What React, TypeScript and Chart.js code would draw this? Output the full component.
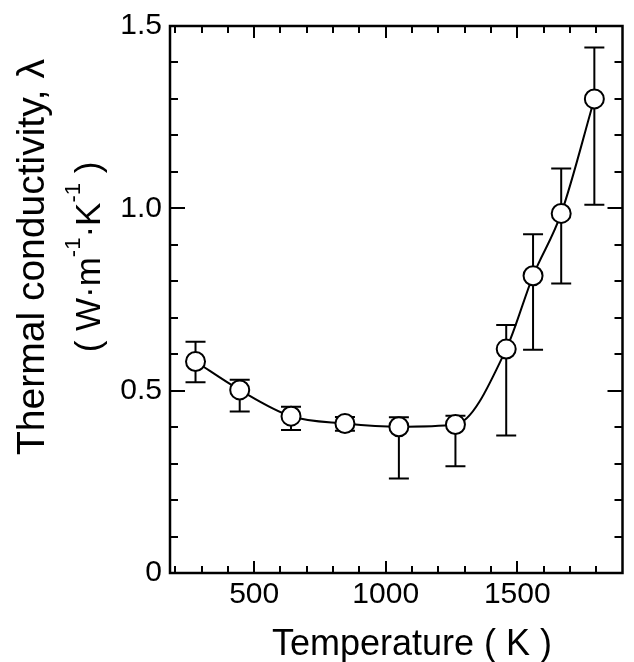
import React, { useEffect, useRef } from "react";
import { Chart, registerables } from "chart.js";

Chart.register(...registerables);

const temperatures = [277, 445, 640, 845, 1050, 1265, 1458, 1560, 1667, 1793];
const conductivity = [0.58, 0.502, 0.43, 0.41, 0.401, 0.407, 0.614, 0.815, 0.986, 1.3];
const errUpper = [0.634, 0.53, 0.456, 0.428, 0.427, 0.431, 0.68, 0.929, 1.109, 1.441];
const errLower = [0.523, 0.443, 0.392, 0.39, 0.259, 0.293, 0.377, 0.612, 0.794, 1.01];

const xTickValues = [500, 1000, 1500];
const yTickValues = [0, 0.5, 1.0, 1.5];
const yTickLabels = ["0", "0.5", "1.0", "1.5"];
const xMinorStep = 100;
const yMinorStep = 0.1;

const FONT = "'Liberation Sans', Arial, sans-serif";

const errorBarPlugin = {
  id: "errorBars",
  beforeDatasetsDraw(chart: any) {
    const { ctx, scales } = chart;
    const xs = scales.x;
    const ys = scales.y;
    ctx.save();
    ctx.strokeStyle = "#000";
    ctx.lineWidth = 2;
    for (let i = 0; i < temperatures.length; i++) {
      const px = xs.getPixelForValue(temperatures[i]);
      const pTop = ys.getPixelForValue(errUpper[i]);
      const pBot = ys.getPixelForValue(errLower[i]);
      ctx.beginPath();
      ctx.moveTo(px, pTop);
      ctx.lineTo(px, pBot);
      ctx.moveTo(px - 10, pTop);
      ctx.lineTo(px + 10, pTop);
      ctx.moveTo(px - 10, pBot);
      ctx.lineTo(px + 10, pBot);
      ctx.stroke();
    }
    ctx.restore();
  },
};

const framePlugin = {
  id: "frame",
  afterDraw(chart: any) {
    const { ctx, chartArea, scales } = chart;
    const { left, right, top, bottom } = chartArea;
    const xs = scales.x;
    const ys = scales.y;
    ctx.save();
    ctx.strokeStyle = "#000";
    ctx.lineWidth = 2.5;
    ctx.strokeRect(left, top, right - left, bottom - top);
    ctx.lineWidth = 2;
    ctx.beginPath();
    // x ticks (bottom and top)
    for (let v = 200; v < xs.max; v += xMinorStep) {
      const px = Math.round(xs.getPixelForValue(v));
      const major = xTickValues.includes(v);
      const len = major ? 12 : 7;
      ctx.moveTo(px, bottom);
      ctx.lineTo(px, bottom - len);
      ctx.moveTo(px, top);
      ctx.lineTo(px, top + len);
    }
    // y ticks (left and right)
    for (let k = 1; k < 15; k++) {
      const v = k * yMinorStep;
      const py = Math.round(ys.getPixelForValue(v));
      const major = k % 5 === 0;
      const len = major ? 15 : 8;
      ctx.moveTo(left, py);
      ctx.lineTo(left + len, py);
      ctx.moveTo(right, py);
      ctx.lineTo(right - len, py);
    }
    ctx.stroke();

    // x axis title
    ctx.fillStyle = "#000";
    ctx.font = `36px ${FONT}`;
    ctx.textAlign = "center";
    ctx.textBaseline = "alphabetic";
    ctx.fillText("Temperature ( K )", 412, 655);

    // y axis title line 1
    ctx.save();
    ctx.translate(44, 257);
    ctx.rotate(-Math.PI / 2);
    ctx.font = `39px ${FONT}`;
    ctx.textAlign = "center";
    ctx.fillText("Thermal conductivity, \u03bb", 0, 0);
    ctx.restore();

    // y axis title line 2 with superscripts
    const segs = [
      { t: "( W\u00b7m", sup: false },
      { t: "-1", sup: true },
      { t: "\u00b7K", sup: false },
      { t: "-1", sup: true },
      { t: " )", sup: false },
    ];
    const mainFont = `35px ${FONT}`;
    const supFont = `22px ${FONT}`;
    let total = 0;
    const widths: number[] = [];
    for (const s of segs) {
      ctx.font = s.sup ? supFont : mainFont;
      const w = ctx.measureText(s.t).width;
      widths.push(w);
      total += w;
    }
    ctx.save();
    ctx.translate(100, 257);
    ctx.rotate(-Math.PI / 2);
    ctx.textAlign = "left";
    let cx = -total / 2;
    segs.forEach((s, i) => {
      ctx.font = s.sup ? supFont : mainFont;
      ctx.fillText(s.t, cx, s.sup ? -20 : 0);
      cx += widths[i];
    });
    ctx.restore();
    ctx.restore();
  },
};

export default function App() {
  const canvasRef = useRef<HTMLCanvasElement | null>(null);

  useEffect(() => {
    document.body.style.margin = "0";
    const canvas = canvasRef.current;
    if (!canvas) return;
    const chart = new Chart(canvas, {
      type: "line",
      data: {
        datasets: [
          {
            data: temperatures.map((t, i) => ({ x: t, y: conductivity[i] })),
            borderColor: "#000",
            borderWidth: 2,
            cubicInterpolationMode: "monotone",
            pointRadius: 9.5,
            pointHoverRadius: 9.5,
            pointBackgroundColor: "#fff",
            pointBorderColor: "#000",
            pointBorderWidth: 2,
            fill: false,
          },
        ],
      },
      options: {
        animation: false,
        responsive: false,
        events: [],
        layout: { padding: { top: 24, right: 4, left: 0, bottom: 0 } },
        plugins: {
          legend: { display: false },
          tooltip: { enabled: false },
          title: { display: false },
        },
        scales: {
          x: {
            type: "linear",
            min: 180,
            max: 1900,
            grid: { display: false, drawTicks: false },
            border: { display: false },
            afterBuildTicks: (scale: any) => {
              scale.ticks = xTickValues.map((v) => ({ value: v }));
            },
            afterFit: (scale: any) => {
              scale.height = 89;
            },
            ticks: {
              padding: 4,
              color: "#000",
              font: { family: FONT, size: 30 },
              maxRotation: 0,
              callback: (v: any) => String(v),
            },
          },
          y: {
            type: "linear",
            min: 0,
            max: 1.5,
            grid: { display: false, drawTicks: false },
            border: { display: false },
            afterBuildTicks: (scale: any) => {
              scale.ticks = yTickValues.map((v) => ({ value: v }));
            },
            afterFit: (scale: any) => {
              scale.width = 170;
            },
            ticks: {
              padding: 8,
              color: "#000",
              font: { family: FONT, size: 30 },
              callback: (v: any) => {
                const idx = yTickValues.indexOf(Number(v));
                return idx >= 0 ? yTickLabels[idx] : "";
              },
            },
          },
        },
      },
      plugins: [errorBarPlugin, framePlugin],
    });
    return () => chart.destroy();
  }, []);

  return (
    <div style={{ width: 634, height: 662, background: "#fff" }}>
      <canvas ref={canvasRef} width={634} height={662} />
    </div>
  );
}
